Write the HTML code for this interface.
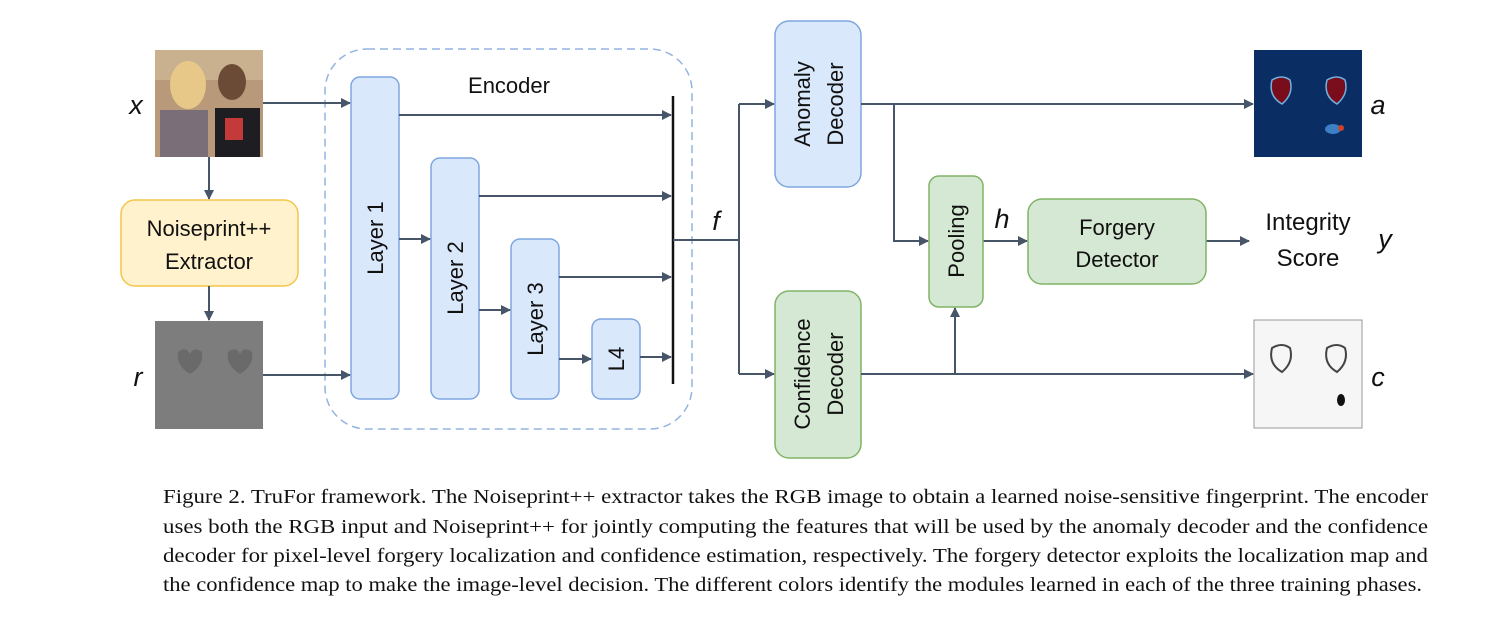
<!DOCTYPE html>
<html><head><meta charset="utf-8"><style>
html,body{margin:0;padding:0;background:#fff;}
svg{display:block;}
.sf{font-family:"Liberation Sans",sans-serif;fill:#111;}
.it{font-family:"Liberation Sans",sans-serif;font-style:italic;fill:#111;font-size:27px;}
.cap{font-family:"Liberation Serif",serif;font-size:20px;fill:#111;}
</style></head><body>
<svg width="1507" height="624" viewBox="0 0 1507 624" xmlns="http://www.w3.org/2000/svg">
<defs>
<marker id="ah" markerWidth="10" markerHeight="10" refX="9" refY="5" orient="auto" markerUnits="userSpaceOnUse">
<path d="M0,0 L10,5 L0,10 z" fill="#475569"/></marker>
</defs>
<rect width="1507" height="624" fill="#fff"/>

<!-- input photo -->
<g>
<rect x="155" y="50" width="108" height="107" fill="#b89a7a"/>
<rect x="155" y="50" width="108" height="30" fill="#c9b08e"/>
<ellipse cx="188" cy="85" rx="18" ry="24" fill="#e8c889"/>
<ellipse cx="232" cy="82" rx="14" ry="18" fill="#6b4a36"/>
<rect x="160" y="110" width="48" height="47" fill="#7a6f78"/>
<rect x="215" y="108" width="45" height="49" fill="#1e1e22"/>
<rect x="225" y="118" width="18" height="22" fill="#c43a3a"/>
</g>
<text class="it" x="136" y="114" text-anchor="middle">x</text>

<!-- noiseprint extractor -->
<line x1="209" y1="157" x2="209" y2="199" stroke="#475569" stroke-width="2" marker-end="url(#ah)"/>
<rect x="121" y="200" width="177" height="86" rx="14" fill="#fff2cc" stroke="#f4c548" stroke-width="1.5"/>
<text class="sf" font-size="22" x="209" y="236" text-anchor="middle">Noiseprint++</text>
<text class="sf" font-size="22" x="209" y="269" text-anchor="middle">Extractor</text>
<line x1="209" y1="286" x2="209" y2="320" stroke="#475569" stroke-width="2" marker-end="url(#ah)"/>

<g>
<rect x="155" y="321" width="108" height="108" fill="#7d7d7d"/>
<path d="M178,352 q8,-6 12,2 q4,-8 12,-2 q2,14 -12,22 q-14,-8 -12,-22z" fill="#6a6a6a"/>
<path d="M228,352 q8,-6 12,2 q4,-8 12,-2 q2,14 -12,22 q-14,-8 -12,-22z" fill="#6a6a6a"/>
</g>
<text class="it" x="138" y="386" text-anchor="middle">r</text>

<!-- encoder -->
<rect x="325" y="49" width="367" height="380" rx="42" fill="none" stroke="#93b3e0" stroke-width="1.5" stroke-dasharray="8,5"/>
<text class="sf" font-size="22" x="509" y="93" text-anchor="middle">Encoder</text>

<line x1="263" y1="103" x2="350" y2="103" stroke="#475569" stroke-width="2" marker-end="url(#ah)"/>
<line x1="263" y1="375" x2="350" y2="375" stroke="#475569" stroke-width="2" marker-end="url(#ah)"/>

<rect x="351" y="77" width="48" height="322" rx="9" fill="#dae8fc" stroke="#7ea6e0" stroke-width="1.5"/>
<text class="sf" font-size="22" transform="translate(383,238) rotate(-90)" text-anchor="middle">Layer 1</text>
<rect x="431" y="158" width="48" height="241" rx="9" fill="#dae8fc" stroke="#7ea6e0" stroke-width="1.5"/>
<text class="sf" font-size="22" transform="translate(463,278) rotate(-90)" text-anchor="middle">Layer 2</text>
<rect x="511" y="239" width="48" height="160" rx="9" fill="#dae8fc" stroke="#7ea6e0" stroke-width="1.5"/>
<text class="sf" font-size="22" transform="translate(543,319) rotate(-90)" text-anchor="middle">Layer 3</text>
<rect x="592" y="319" width="48" height="80" rx="9" fill="#dae8fc" stroke="#7ea6e0" stroke-width="1.5"/>
<text class="sf" font-size="22" transform="translate(624,359) rotate(-90)" text-anchor="middle">L4</text>

<g stroke="#475569" stroke-width="2" fill="none">
<line x1="399" y1="115" x2="671" y2="115" marker-end="url(#ah)"/>
<line x1="479" y1="196" x2="671" y2="196" marker-end="url(#ah)"/>
<line x1="559" y1="277" x2="671" y2="277" marker-end="url(#ah)"/>
<line x1="640" y1="357" x2="671" y2="357" marker-end="url(#ah)"/>
<line x1="399" y1="239" x2="430" y2="239" marker-end="url(#ah)"/>
<line x1="479" y1="310" x2="510" y2="310" marker-end="url(#ah)"/>
<line x1="559" y1="359" x2="591" y2="359" marker-end="url(#ah)"/>
</g>
<line x1="673" y1="96" x2="673" y2="384" stroke="#111" stroke-width="2.5"/>

<!-- f -->
<g stroke="#475569" stroke-width="2" fill="none">
<line x1="673" y1="240" x2="739" y2="240"/>
<line x1="739" y1="104" x2="739" y2="374"/>
<line x1="739" y1="104" x2="774" y2="104" marker-end="url(#ah)"/>
<line x1="739" y1="374" x2="774" y2="374" marker-end="url(#ah)"/>
</g>
<text class="it" x="716" y="230" text-anchor="middle">f</text>

<rect x="775" y="21" width="86" height="166" rx="14" fill="#dae8fc" stroke="#7ea6e0" stroke-width="1.5"/>
<text class="sf" font-size="22" transform="translate(810,104) rotate(-90)" text-anchor="middle">Anomaly</text>
<text class="sf" font-size="22" transform="translate(843,104) rotate(-90)" text-anchor="middle">Decoder</text>

<rect x="775" y="291" width="86" height="167" rx="14" fill="#d5e8d4" stroke="#82b366" stroke-width="1.5"/>
<text class="sf" font-size="22" transform="translate(810,374) rotate(-90)" text-anchor="middle">Confidence</text>
<text class="sf" font-size="22" transform="translate(843,374) rotate(-90)" text-anchor="middle">Decoder</text>

<g stroke="#475569" stroke-width="2" fill="none">
<line x1="861" y1="104" x2="1253" y2="104" marker-end="url(#ah)"/>
<polyline points="894,104 894,241 928,241" marker-end="url(#ah)"/>
<line x1="861" y1="374" x2="1253" y2="374" marker-end="url(#ah)"/>
<line x1="955" y1="374" x2="955" y2="308" marker-end="url(#ah)"/>
<line x1="983" y1="241" x2="1027" y2="241" marker-end="url(#ah)"/>
<line x1="1206" y1="241" x2="1249" y2="241" marker-end="url(#ah)"/>
</g>

<rect x="929" y="176" width="54" height="131" rx="10" fill="#d5e8d4" stroke="#82b366" stroke-width="1.5"/>
<text class="sf" font-size="22" transform="translate(964,241) rotate(-90)" text-anchor="middle">Pooling</text>
<text class="it" x="1002" y="228" text-anchor="middle">h</text>

<rect x="1028" y="199" width="178" height="85" rx="14" fill="#d5e8d4" stroke="#82b366" stroke-width="1.5"/>
<text class="sf" font-size="22" x="1117" y="235" text-anchor="middle">Forgery</text>
<text class="sf" font-size="22" x="1117" y="267" text-anchor="middle">Detector</text>

<text class="sf" font-size="24" x="1308" y="230" text-anchor="middle">Integrity</text>
<text class="sf" font-size="24" x="1308" y="266" text-anchor="middle">Score</text>
<text class="it" x="1385" y="248" text-anchor="middle">y</text>

<g>
<rect x="1254" y="50" width="108" height="107" fill="#0a2d63"/>
<path d="M1272,80 q10,-6 18,0 q4,14 -8,24 q-14,-8 -10,-24z" fill="#7a0d1c" stroke="#6fb3e0" stroke-width="1.5"/>
<path d="M1327,80 q10,-6 18,0 q4,14 -8,24 q-14,-8 -10,-24z" fill="#7a0d1c" stroke="#6fb3e0" stroke-width="1.5"/>
<ellipse cx="1333" cy="129" rx="8" ry="5" fill="#3c7fc4"/>
<circle cx="1341" cy="128" r="3" fill="#d0402a"/>
</g>
<text class="it" x="1378" y="114" text-anchor="middle">a</text>

<g>
<rect x="1254" y="320" width="108" height="108" fill="#f6f6f6" stroke="#999" stroke-width="1"/>
<path d="M1272,348 q10,-6 18,0 q4,14 -8,24 q-14,-8 -10,-24z" fill="none" stroke="#444" stroke-width="2"/>
<path d="M1327,348 q10,-6 18,0 q4,14 -8,24 q-14,-8 -10,-24z" fill="none" stroke="#444" stroke-width="2"/>
<ellipse cx="1341" cy="400" rx="4" ry="6" fill="#111"/>
</g>
<text class="it" x="1378" y="386" text-anchor="middle">c</text>

<g>
<text class="cap" x="163" y="503" textLength="1265" lengthAdjust="spacingAndGlyphs">Figure 2. TruFor framework. The Noiseprint++ extractor takes the RGB image to obtain a learned noise-sensitive fingerprint. The encoder</text>
<text class="cap" x="163" y="533" textLength="1265" lengthAdjust="spacingAndGlyphs">uses both the RGB input and Noiseprint++ for jointly computing the features that will be used by the anomaly decoder and the confidence</text>
<text class="cap" x="163" y="562" textLength="1265" lengthAdjust="spacingAndGlyphs">decoder for pixel-level forgery localization and confidence estimation, respectively. The forgery detector exploits the localization map and</text>
<text class="cap" x="163" y="591" textLength="1259" lengthAdjust="spacingAndGlyphs">the confidence map to make the image-level decision. The different colors identify the modules learned in each of the three training phases.</text>
</g>
</svg>
</body></html>
